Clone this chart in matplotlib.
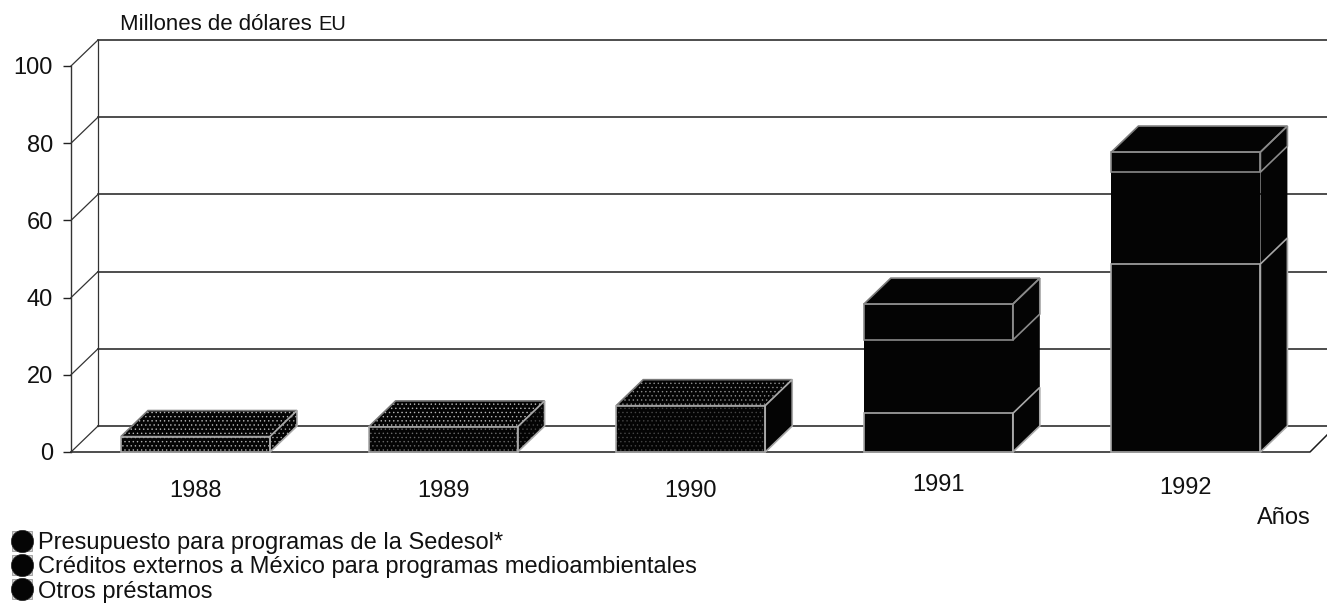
import matplotlib
matplotlib.use("Agg")
import matplotlib.pyplot as plt
from matplotlib.legend_handler import HandlerTuple
from matplotlib.lines import Line2D
from matplotlib.patches import Polygon
from matplotlib.transforms import ScaledTranslation

plt.rcParams["font.family"] = ["Liberation Sans", "DejaVu Sans"]
plt.rcParams["hatch.linewidth"] = 0.5

# Funding by year, millions of US dollars
years = ["1988", "1989", "1990", "1991", "1992"]
presupuesto = [4.0, 6.5, 12.0, 10.0, 48.7]
creditos = [0.0, 0.0, 0.0, 19.0, 23.8]
otros = [0.0, 0.0, 0.0, 9.3, 5.2]
series_labels = [
    "Presupuesto para programas de la Sedesol*",
    "Créditos externos a México para programas medioambientales",
    "Otros préstamos",
]
y_ticks = [0, 20, 40, 60, 80, 100]

# Look of the pseudo-3D boxes: grain pattern and grain colour per year
grain_front = [("....", "#b0b0b0"), ("....", "#6a6a6a"), ("....", "#454545"), None, None]
grain_top = [("....", "#b8b8b8"), ("....", "#b8b8b8"), ("....", "#8c8c8c"), None, None]
grain_side = [("....", "#a0a0a0"), ("....", "#454545"), None, None, None]
label_lift_pt = [0, 0, 0, 4.3, 2]

BAR_WIDTH = 149 / 247.6
DEPTH_X = 27 / 247.6
DEPTH_Y = 26 / 3.86
INK = "#040404"
EDGE = "#a8a8a8"
EDGE_BY_SERIES = {"presupuesto": EDGE, "creditos": "none", "otros": "#8a8a8a"}

fig = plt.figure(figsize=(13.27, 6.06), dpi=100)
ax = fig.add_axes([71 / 1327, 154 / 606, 1256 / 1327, 386 / 606])
ax.set_xlim((71 - 195.5) / 247.6, (1327 - 195.5) / 247.6)
ax.set_ylim(0, 100)
x0, x1 = ax.get_xlim()

for side in ("top", "right", "bottom"):
    ax.spines[side].set_visible(False)
ax.spines["left"].set_linewidth(1.0)
ax.spines["left"].set_color("#333333")

ax.set_yticks(y_ticks)
ax.set_yticklabels([str(v) for v in y_ticks], fontsize=17, color="#111111")
ax.tick_params(axis="y", length=6, width=1, pad=7, color="#222222")
ax.set_xticks(range(len(years)))
ax.set_xticklabels(years, fontsize=17, color="#111111")
ax.tick_params(axis="x", length=0, pad=20)
for lab, lift in zip(ax.get_xticklabels(), label_lift_pt):
    lab.set_transform(lab.get_transform() + ScaledTranslation(0, lift / 72, fig.dpi_scale_trans))

# Back wall, side wall and floor
line = dict(color="#1c1c1c", lw=1.1, clip_on=False, zorder=1)
for v in y_ticks:
    ax.plot([x0 + DEPTH_X, x1], [v + DEPTH_Y] * 2, **line)
    ax.plot([x0, x0 + DEPTH_X], [v, v + DEPTH_Y], color="#333333", lw=0.9, clip_on=False, zorder=1)
ax.plot([x0 + DEPTH_X] * 2, [DEPTH_Y, 100 + DEPTH_Y], color="#333333", lw=0.9, clip_on=False, zorder=1)
floor_end = x1 - 17 / 247.6
ax.plot([x0, floor_end, x1], [0, 0, 17 / 3.86], **line)


def face(points, grain, edge=EDGE, zorder=3.0):
    pattern, tint = grain if grain else (None, INK)
    ax.add_patch(Polygon(points, closed=True, facecolor=INK, edgecolor=tint,
                         hatch=pattern, lw=0, clip_on=False, zorder=zorder))
    ax.add_patch(Polygon(points, closed=True, fill=False, edgecolor=edge, lw=1.2,
                         clip_on=False, zorder=zorder + 0.5))


stack = (("otros", otros), ("creditos", creditos), ("presupuesto", presupuesto))
for i in range(len(years)):
    left = i - BAR_WIDTH / 2
    right = i + BAR_WIDTH / 2
    height = presupuesto[i] + creditos[i] + otros[i]
    face([(left, height), (right, height), (right + DEPTH_X, height + DEPTH_Y),
          (left + DEPTH_X, height + DEPTH_Y)], grain_top[i], "#7a7a7a")
    # Segments are painted top down, each carrying its own rim colour
    top = height
    for name, values in stack:
        v = values[i]
        if v <= 0:
            continue
        base = top - v
        z = {"otros": 3.0, "creditos": 2.0, "presupuesto": 4.0}[name]
        edge = EDGE_BY_SERIES[name]
        face([(left, base), (right, base), (right, top), (left, top)], grain_front[i], edge, z)
        face([(right, base), (right + DEPTH_X, base + DEPTH_Y),
              (right + DEPTH_X, top + DEPTH_Y), (right, top)], grain_side[i], edge, z)
        top = base

# Axis captions
fig.text(120 / 1327, 1 - 30 / 606, "Millones de dólares", fontsize=16, color="#111111")
fig.text(318 / 1327, 1 - 30 / 606, "EU", fontsize=14.5, color="#111111")
fig.text(1257 / 1327, 1 - 524 / 606, "Años", fontsize=17, color="#111111")

# Series key: a dark blob over a pale square
handles = [
    (Line2D([], [], ls="none", marker="s", ms=15, mfc="#d0d0d0", mec="#999999", mew=0.6),
     Line2D([], [], ls="none", marker="o", ms=16, mfc="#050505", mec="#222222", mew=0.5))
    for _ in series_labels
]
fig.legend(handles, series_labels, loc="lower left", bbox_to_anchor=(0.0, -0.0106),
           frameon=False, fontsize=17, labelspacing=0.1, handlelength=1.0,
           handletextpad=0.18, borderpad=0.0, borderaxespad=0.42, labelcolor="#111111",
           handler_map={tuple: HandlerTuple(ndivide=1, pad=0)})

fig.savefig("out.png", dpi=100)
